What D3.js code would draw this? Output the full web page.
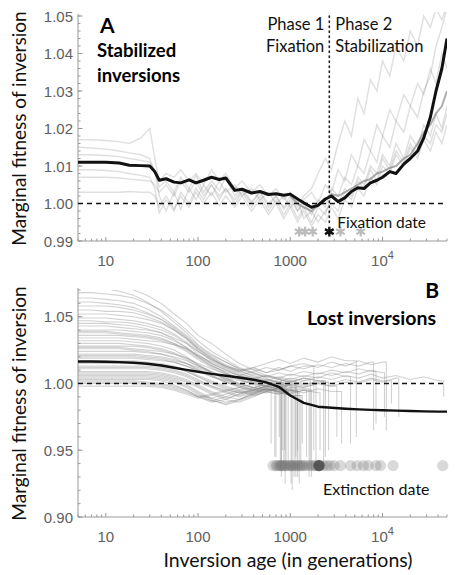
<!DOCTYPE html>
<html><head><meta charset="utf-8">
<script src="https://cdnjs.cloudflare.com/ajax/libs/d3/7.8.5/d3.min.js"></script>
<style>body{margin:0;background:#fff}svg{display:block}</style>
</head><body><svg id="c" width="468" height="575"></svg>
<script>
// ---------- Panel A data (stabilized inversions) ----------
const ageA = [5,7,10,14,18,24,30,34,38,45,55,65,80,95,115,140,170,200,250,300,380,470,580,700,850,1000,1200,1400,1700,2000,2400,2800,3300,3900,4600,5400,6300,7400,8700,10000,12000,14000,17000,20000,24000,28000,33000,38000,44000,50000];
const meanA = [1.011,1.011,1.011,1.0108,1.0102,1.0101,1.0100,1.0085,1.0062,1.0066,1.0057,1.0055,1.0063,1.0055,1.0062,1.0070,1.0064,1.0068,1.0035,1.0038,1.0028,1.0032,1.0024,1.0026,1.0022,1.0025,1.0012,1.0002,0.9990,0.9995,1.0012,1.0020,1.0005,1.0015,1.0032,1.0042,1.0040,1.0055,1.0062,1.0070,1.0085,1.0080,1.0105,1.0120,1.0140,1.0175,1.0230,1.0300,1.0360,1.0440];
const simA1 = [1.017,1.017,1.0168,1.0165,1.016,1.0175,1.020,1.012,1.006,1.008,1.007,1.009,1.006,1.008,1.005,1.009,1.006,1.008,1.004,1.006,1.003,1.005,1.002,1.004,1.001,1.003,0.999,1.002,1.004,1.008,1.012,1.009,1.016,1.022,1.018,1.028,1.024,1.033,1.030,1.038,1.034,1.042,1.038,1.046,1.042,1.050,1.047,1.052,1.049,1.053];
const simA2 = [1.015,1.0148,1.0145,1.014,1.0135,1.013,1.012,1.008,1.0045,1.006,1.003,1.007,1.004,1.0075,1.003,1.006,1.0035,1.007,1.002,1.004,1.0005,1.003,0.999,1.002,0.9985,1.001,0.998,1.000,0.997,1.001,0.999,1.004,1.002,1.007,1.005,1.010,1.008,1.014,1.011,1.018,1.015,1.022,1.019,1.026,1.023,1.030,1.034,1.042,1.047,1.052];
const simA3 = [1.013,1.013,1.0128,1.0125,1.012,1.0115,1.011,1.009,1.002,0.998,1.003,0.9985,1.004,1.001,1.005,1.002,1.006,1.003,1.005,1.002,1.004,1.001,1.003,1.000,1.002,0.999,1.001,0.996,0.998,0.995,0.998,1.000,0.998,1.003,1.001,1.006,1.004,1.009,1.006,1.012,1.009,1.014,1.011,1.016,1.013,1.018,1.016,1.021,1.019,1.024];
const simA4 = [1.009,1.009,1.0088,1.0085,1.008,1.0075,1.007,1.004,0.9975,1.001,0.998,1.003,1.000,1.004,1.001,1.005,1.002,1.004,1.000,1.003,0.999,1.002,0.998,1.001,0.997,1.000,0.996,0.999,0.995,0.999,0.997,1.002,1.000,1.004,1.002,1.007,1.005,1.010,1.008,1.013,1.010,1.016,1.012,1.018,1.015,1.021,1.018,1.024,1.020,1.026];
const simA5 = [1.007,1.007,1.007,1.0068,1.0065,1.0062,1.006,1.005,1.003,1.005,1.002,1.006,1.003,1.006,1.002,1.005,1.001,1.004,1.001,1.0035,1.000,1.003,1.000,1.002,0.999,1.002,0.998,1.001,1.003,1.000,1.005,1.003,1.009,1.006,1.013,1.010,1.017,1.014,1.021,1.018,1.025,1.022,1.029,1.026,1.032,1.029,1.036,1.032,1.040,1.036];
const simA6 = [1.003,1.003,1.003,1.003,1.0032,1.003,1.003,1.002,0.999,1.002,0.9985,1.002,0.999,1.003,1.000,1.003,0.9995,1.002,0.999,1.002,0.998,1.001,0.997,1.000,0.996,0.999,0.995,0.998,0.994,0.997,0.995,0.999,0.996,1.001,0.999,1.004,1.002,1.007,1.005,1.010,1.008,1.013,1.010,1.015,1.012,1.017,1.014,1.019,1.016,1.021];
const simA7 = [null,null,null,null,null,null,null,null,null,null,null,null,null,null,null,null,null,null,null,null,null,null,null,null,null,1.002,1.000,0.999,0.998,0.9995,1.001,1.0025,1.002,1.003,1.004,1.005,1.006,1.0065,1.008,1.0085,1.0095,1.010,1.012,1.013,1.016,1.019,1.021,1.024,1.026,1.030];
const simsA = [simA1, simA2, simA3, simA4, simA5, simA6];
const fixationDates = [1250, 1450, 1750, 3500, 5800];
const fixationMedian = 2650;
const yTicksA = [0.99, 1.00, 1.01, 1.02, 1.03, 1.04, 1.05];

// ---------- Panel B data (lost inversions) ----------
const ageB = [5,7,10,14,20,28,40,55,75,100,140,200,280,400,550,750,1000,1400,2000,2800,4000,5500,7500,10000,14000,20000,28000,40000,50000];
const meanB = [1.0165,1.0165,1.0163,1.016,1.0155,1.0148,1.0135,1.0118,1.0102,1.0088,1.0072,1.0058,1.0045,1.0028,1.0008,0.9975,0.9910,0.9855,0.9826,0.9818,0.9811,0.9806,0.9802,0.9799,0.9797,0.9794,0.9791,0.9789,0.9789];
const simsB = [
  [1.078,1.077,1.076,1.074,1.070,1.066,1.060,1.052,1.045,1.036,1.030,1.022,1.015,1.010,1.006,1.004,1.002],
  [1.068,1.068,1.067,1.066,1.064,1.060,1.055,1.048,1.040,1.032,1.024,1.018,1.012,1.008,1.004,1.000,0.998,0.996],
  [1.058,1.058,1.058,1.057,1.055,1.052,1.048,1.042,1.035,1.027,1.020,1.014,1.010,1.005,1.002,0.999],
  [1.052,1.052,1.052,1.051,1.050,1.048,1.045,1.040,1.034,1.026,1.019,1.012,1.008,1.004,1.006,1.003,1.001,1.004,1.002],
  [1.047,1.047,1.046,1.046,1.045,1.043,1.040,1.036,1.030,1.022,1.015,1.010,1.006,1.003,1.000,0.998],
  [1.043,1.043,1.043,1.042,1.041,1.040,1.038,1.034,1.030,1.024,1.018,1.013,1.010,1.012,1.008,1.010,1.013,1.015,1.012,1.016,1.013,1.017,1.014,1.016],
  [1.038,1.038,1.038,1.037,1.036,1.035,1.033,1.030,1.026,1.020,1.014,1.008,1.003,0.999,0.996,0.994],
  [1.034,1.034,1.034,1.034,1.033,1.032,1.031,1.029,1.026,1.021,1.016,1.011,1.007,1.004,1.002,1.005,1.003,1.006,1.004,1.008,1.005],
  [1.030,1.030,1.030,1.030,1.029,1.028,1.026,1.023,1.019,1.014,1.009,1.004,1.000,0.997,0.995],
  [1.027,1.027,1.027,1.027,1.026,1.025,1.024,1.022,1.019,1.015,1.011,1.007,1.004,1.002,1.000,0.998,0.996],
  [1.024,1.024,1.024,1.024,1.024,1.023,1.022,1.020,1.017,1.013,1.009,1.005,1.002,1.000,1.003,1.001,1.004,1.002,1.005,1.003,1.006,1.004,1.007,1.004,1.006,1.003,1.005,1.002],
  [1.021,1.021,1.021,1.021,1.021,1.020,1.019,1.017,1.015,1.012,1.008,1.004,1.000,0.997,0.995,0.996,0.993,0.995],
  [1.019,1.019,1.019,1.019,1.019,1.018,1.017,1.016,1.013,1.010,1.006,1.002,0.998,0.996,0.998,0.995],
  [1.017,1.017,1.017,1.017,1.017,1.016,1.015,1.013,1.010,1.006,1.002,0.998,0.995,0.997,0.999,0.997,1.000,0.998,1.001],
  [1.015,1.015,1.015,1.015,1.015,1.015,1.014,1.012,1.009,1.005,1.000,0.996,0.993,0.995,0.998,0.996,0.994],
  [1.013,1.013,1.013,1.013,1.013,1.013,1.012,1.010,1.007,1.003,0.998,0.994,0.991,0.994,0.997,0.995],
  [1.011,1.011,1.011,1.011,1.011,1.011,1.010,1.008,1.005,1.001,0.997,0.993,0.990,0.993,0.996,0.994,0.992,0.995,0.993],
  [1.009,1.009,1.009,1.009,1.009,1.009,1.008,1.006,1.003,0.999,0.994,0.990,0.988,0.992,0.995],
  [1.007,1.007,1.007,1.007,1.007,1.007,1.006,1.004,1.001,0.997,0.992,0.988,0.986,0.990,0.994,0.997,0.995],
  [1.006,1.006,1.006,1.006,1.006,1.006,1.005,1.003,0.999,0.994,0.989,0.986,0.988,0.992,0.996,0.994,0.997,0.995],
  [1.004,1.004,1.004,1.004,1.004,1.004,1.003,1.001,0.997,0.992,0.987,0.985,0.988,0.993,0.996,0.993],
  [1.003,1.003,1.003,1.003,1.003,1.003,1.002,0.999,0.995,0.990,0.986,0.988,0.992,0.995,0.998,0.996,0.999,0.997,1.000,0.998,1.001,1.000,1.003,1.001,1.004],
  [1.002,1.002,1.002,1.002,1.002,1.001,1.000,0.998,0.995,0.991,0.989,0.992,0.995,0.993,0.996,0.994,0.991],
  [1.000,1.000,1.000,1.000,1.000,0.999,0.998,0.996,0.993,0.990,0.992,0.995,0.993,0.996,0.994,0.997],
  [0.998,0.998,0.998,0.998,0.998,0.998,0.997,0.995,0.992,0.989,0.991,0.994,0.997,0.995,0.998,0.996,0.999,0.997,1.000,0.998],
  [1.064,1.064,1.063,1.062,1.060,1.056,1.050,1.043,1.036,1.028,1.021,1.016,1.011,1.007,1.005,1.008,1.006,1.009,1.007,1.010,1.008,1.011,1.009],
  [1.055,1.055,1.054,1.054,1.053,1.050,1.046,1.040,1.033,1.025,1.018,1.013,1.009,1.006,1.003,1.001,0.999],
  [1.049,1.049,1.049,1.048,1.047,1.045,1.042,1.037,1.031,1.024,1.017,1.012,1.009,1.012,1.015,1.018,1.015,1.019,1.016,1.020,1.017],
  [1.040,1.040,1.040,1.040,1.039,1.038,1.036,1.032,1.027,1.021,1.015,1.010,1.006,1.003,1.001,1.000,1.002,1.000],
  [1.036,1.036,1.036,1.036,1.035,1.034,1.032,1.029,1.024,1.018,1.012,1.007,1.003,1.000,0.998,0.997,0.995],
  [1.028,1.028,1.028,1.028,1.028,1.027,1.025,1.022,1.018,1.013,1.008,1.003,0.999,0.997,1.000,0.998,1.001,0.999,1.002,1.000,1.003,1.001,1.004,1.002],
  [1.022,1.022,1.022,1.022,1.022,1.021,1.020,1.018,1.015,1.011,1.006,1.001,0.997,0.994,0.996,0.993,0.991],
  [1.072,1.072,1.071,1.069,1.066,1.061,1.054,1.046,1.038,1.029,1.022,1.016,1.011,1.008,1.005,1.003],
  [1.061,1.061,1.060,1.059,1.057,1.053,1.048,1.041,1.034,1.026,1.019,1.013,1.009,1.011,1.008,1.012,1.009,1.013],
  [1.045,1.045,1.045,1.044,1.043,1.041,1.038,1.033,1.027,1.020,1.013,1.008,1.004,1.001,0.998,1.000,0.997],
  [1.032,1.032,1.032,1.032,1.031,1.030,1.028,1.025,1.020,1.014,1.008,1.003,0.999,1.002,1.000,1.003,1.001,1.004,1.002],
  [1.026,1.026,1.026,1.026,1.025,1.024,1.022,1.019,1.015,1.010,1.005,1.001,0.998,0.995,0.997,0.994],
  [1.020,1.020,1.020,1.020,1.020,1.019,1.018,1.016,1.013,1.009,1.005,1.002,1.005,1.003,1.006,1.004,1.007,1.005,1.008,1.006,1.009,1.007,1.010,1.008],
  [1.016,1.016,1.016,1.016,1.016,1.015,1.014,1.012,1.009,1.005,1.001,0.997,0.994,0.991,0.994,0.992,0.995],
  [1.012,1.012,1.012,1.012,1.012,1.012,1.011,1.009,1.006,1.002,0.998,0.995,0.997,1.000,0.998,1.001,0.999,1.002],
  [1.008,1.008,1.008,1.008,1.008,1.008,1.007,1.005,1.002,0.998,0.993,0.989,0.992,0.995,0.993,0.996],
  [1.005,1.005,1.005,1.005,1.005,1.005,1.004,1.002,0.998,0.993,0.988,0.984,0.987,0.991,0.994,0.992,0.995,0.993,0.996,0.994],
  [1.001,1.001,1.001,1.001,1.001,1.000,0.999,0.997,0.994,0.990,0.987,0.990,0.994,0.992,0.995],
  [1.039,1.039,1.039,1.038,1.037,1.036,1.034,1.030,1.025,1.019,1.013,1.009,1.006,1.009,1.012,1.010,1.013,1.011,1.014,1.012,1.015,1.013,1.016]
];
const simEndB  = [1150,1600,820,2300,900,11000,780,4500,700,1050,46000,1700,850,2600,1250,950,2100,620,1100,1500,800,15000,1300,760,3200,8500,1020,5200,1900,1200,12500,1350,800,1800,1150,2400,880,10500,1200,1650,870,3600,680,8000];
const simDropB = [0.945,0.930,0.950,0.935,0.940,0.965,0.935,0.955,0.945,0.920,0.990,0.930,0.940,0.950,0.925,0.940,0.950,0.955,0.930,0.945,0.930,0.975,0.940,0.960,0.960,0.970,0.925,0.960,0.935,0.950,0.985,0.955,0.940,0.950,0.930,0.945,0.925,0.975,0.930,0.940,0.950,0.955,0.945,0.965];
const extinctionDates = [650,700,720,760,780,800,820,850,880,900,950,1000,1020,1050,1100,1150,1200,1250,1300,1350,1400,1500,1600,1700,1800,1900,2000,2100,2300,2500,2700,3000,3500,4500,5300,6200,7000,8500,9500,13000,45000];
const extinctionMedian = 2050;
const yTicksB = [0.90, 0.95, 1.00, 1.05];
const xTicks = [10, 100, 1000, 10000];

// ---------- drawing ----------
const svg = d3.select("#c");
const FONT = "Lato, 'Open Sans', sans-serif";
const TICKFONT = "'Liberation Sans', Arial, sans-serif";
const xS = d3.scaleLog().domain([5, 50000]).range([78, 447]);
const yA = d3.scaleLinear().domain([0.99, 1.05]).range([241, 16]);
const yB = d3.scaleLinear().domain([0.90, 1.07]).range([517, 290]);

const defs = svg.append("defs");
defs.append("clipPath").attr("id","clipA").append("rect").attr("x",78).attr("y",12).attr("width",369).attr("height",229);
defs.append("clipPath").attr("id","clipB").append("rect").attr("x",78).attr("y",290).attr("width",369).attr("height",227);

function minorTicks(){
  const out=[];
  for (let e=0;e<5;e++) for (let m=1;m<10;m++){ const v=m*Math.pow(10,e); if(v>=5&&v<=50000&&m!==1) out.push(v); }
  return out;
}

function drawAxes(y, yTicks, yMinorStep, fmtY){
  const x0 = xS.range()[0], x1 = xS.range()[1];
  const yb = y.range()[0], yt = y.range()[1];
  const g = svg.append("g");
  g.append("line").attr("x1",x0).attr("x2",x0).attr("y1",yt-2).attr("y2",yb).attr("stroke","#999").attr("stroke-width",1);
  g.append("line").attr("x1",x0).attr("x2",x1).attr("y1",yb).attr("y2",yb).attr("stroke","#999").attr("stroke-width",1);
  g.selectAll(null).data(xTicks).join("line").attr("x1",d=>xS(d)).attr("x2",d=>xS(d)).attr("y1",yb).attr("y2",yb-4).attr("stroke","#999");
  g.selectAll(null).data(minorTicks()).join("line").attr("x1",d=>xS(d)).attr("x2",d=>xS(d)).attr("y1",yb).attr("y2",yb-2.5).attr("stroke","#999");
  const [d0,d1]=y.domain();
  const minors=[]; for(let v=d0; v<=d1+1e-9; v+=yMinorStep) minors.push(+v.toFixed(4));
  g.selectAll(null).data(minors).join("line").attr("x1",x0).attr("x2",x0+2.5).attr("y1",d=>y(d)).attr("y2",d=>y(d)).attr("stroke","#999");
  g.selectAll(null).data(yTicks).join("line").attr("x1",x0).attr("x2",x0+4.5).attr("y1",d=>y(d)).attr("y2",d=>y(d)).attr("stroke","#999");
  g.selectAll(null).data(yTicks).join("text").attr("x",x0-5).attr("y",d=>y(d)+5.5).attr("text-anchor","end")
    .attr("font-family",TICKFONT).attr("font-size",15).attr("fill","#606060").text(fmtY);
  const xl = g.selectAll(null).data(xTicks).join("text").attr("x",d=>xS(d)).attr("y",yb+25).attr("text-anchor","middle")
    .attr("font-family",TICKFONT).attr("font-size",15).attr("fill","#606060");
  xl.each(function(d){
    const t=d3.select(this);
    if(d>=10000){ t.append("tspan").text("10"); t.append("tspan").attr("dy",-7).attr("font-size",11).text(String(Math.round(Math.log10(d)))); }
    else t.text(d);
  });
  g.append("text").attr("transform",`translate(26,${(yt+yb)/2})`+" rotate(-90)").attr("text-anchor","middle")
    .attr("font-family",FONT).attr("font-size",19).attr("fill","#111").text("Marginal fitness of inversion");
}

const lineA = d3.line().defined(d=>d[1]!=null).x(d=>xS(d[0])).y(d=>yA(d[1]));
const lineB = d3.line().x(d=>xS(d[0])).y(d=>yB(d[1]));

// ----- Panel A -----
drawAxes(yA, yTicksA, 0.002, d=>d.toFixed(2));
const gA = svg.append("g").attr("clip-path","url(#clipA)");
simsA.forEach(s=>{
  gA.append("path").attr("d",lineA(ageA.map((a,i)=>[a,s[i]]))).attr("fill","none").attr("stroke","#8a8a8a").attr("stroke-opacity",0.27).attr("stroke-width",1.4);
});
gA.append("path").attr("d",lineA(ageA.map((a,i)=>[a,simA7[i]]))).attr("fill","none").attr("stroke","#777").attr("stroke-opacity",0.6).attr("stroke-width",2);
gA.append("line").attr("x1",xS.range()[0]).attr("x2",xS.range()[1]).attr("y1",yA(1)).attr("y2",yA(1)).attr("stroke","#111").attr("stroke-width",1.6).attr("stroke-dasharray","5,4");
gA.append("path").attr("d",lineA(ageA.map((a,i)=>[a,meanA[i]]))).attr("fill","none").attr("stroke","#111").attr("stroke-width",3).attr("stroke-linejoin","round");
svg.append("line").attr("x1",xS(fixationMedian)).attr("x2",xS(fixationMedian)).attr("y1",yA(1.05)).attr("y2",yA(0.9945))
  .attr("stroke","#222").attr("stroke-width",1.6).attr("stroke-dasharray","1.5,3.5").attr("stroke-linecap","round");
const ast = d3.symbol().type(d3.symbolAsterisk).size(70);
svg.selectAll(null).data(fixationDates).join("path").attr("d",ast).attr("transform",d=>`translate(${xS(d)},${yA(0.9925)})`)
  .attr("fill","none").attr("stroke","#bbb").attr("stroke-width",2.2);
svg.append("path").attr("d",ast).attr("transform",`translate(${xS(fixationMedian)},${yA(0.9925)})`).attr("fill","none").attr("stroke","#111").attr("stroke-width",2.4);
const fx = xS(fixationMedian);
svg.append("text").attr("x",100).attr("y",33).attr("font-family",FONT).attr("font-weight",700).attr("font-size",21).text("A");
svg.append("text").attr("x",97).attr("y",57).attr("font-family",FONT).attr("font-weight",700).attr("font-size",18.5).text("Stabilized");
svg.append("text").attr("x",97).attr("y",82).attr("font-family",FONT).attr("font-weight",700).attr("font-size",18.5).text("inversions");
[["Phase 1",30],["Fixation",52]].forEach(([t,y])=>svg.append("text").attr("x",fx-5).attr("y",y).attr("text-anchor","end").attr("font-family",FONT).attr("font-size",16.5).attr("fill","#111").text(t));
[["Phase 2",30],["Stabilization",52]].forEach(([t,y])=>svg.append("text").attr("x",fx+6).attr("y",y).attr("font-family",FONT).attr("font-size",16.5).attr("fill","#111").text(t));
svg.append("text").attr("x",fx+8).attr("y",228).attr("font-family",FONT).attr("font-size",15.5).attr("fill","#111").text("Fixation date");

// ----- Panel B -----
drawAxes(yB, yTicksB, 0.01, d=>d.toFixed(2));
const gB = svg.append("g").attr("clip-path","url(#clipB)");
simsB.forEach((s,k)=>{
  const pts = s.map((v,i)=>[ageB[i],v]);
  pts.push([simEndB[k], s[s.length-1]]);
  pts.push([simEndB[k], simDropB[k]]);
  gB.append("path").attr("d",lineB(pts)).attr("fill","none").attr("stroke","#8a8a8a").attr("stroke-opacity",0.38).attr("stroke-width",1.1);
});
gB.append("line").attr("x1",xS.range()[0]).attr("x2",xS.range()[1]).attr("y1",yB(1)).attr("y2",yB(1)).attr("stroke","#111").attr("stroke-width",1.6).attr("stroke-dasharray","5,4");
gB.append("path").attr("d",lineB(ageB.map((a,i)=>[a,meanB[i]]))).attr("fill","none").attr("stroke","#111").attr("stroke-width",2.4).attr("stroke-linejoin","round");
svg.selectAll(null).data(extinctionDates).join("circle").attr("cx",d=>xS(d)).attr("cy",yB(0.9385)).attr("r",5.6)
  .attr("fill","#777").attr("fill-opacity",0.28);
svg.append("circle").attr("cx",xS(extinctionMedian)).attr("cy",yB(0.9385)).attr("r",5.6).attr("fill","#4a4a4a").attr("fill-opacity",0.85);
svg.append("text").attr("x",439).attr("y",298).attr("text-anchor","end").attr("font-family",FONT).attr("font-weight",700).attr("font-size",21).text("B");
svg.append("text").attr("x",436).attr("y",325).attr("text-anchor","end").attr("font-family",FONT).attr("font-weight",700).attr("font-size",19.5).text("Lost inversions");
svg.append("text").attr("x",323).attr("y",495).attr("font-family",FONT).attr("font-size",16).attr("fill","#111").text("Extinction date");
svg.append("text").attr("x",288).attr("y",567).attr("text-anchor","middle").attr("font-family",FONT).attr("font-size",19.5).attr("fill","#111").text("Inversion age (in generations)");
</script></body></html>
